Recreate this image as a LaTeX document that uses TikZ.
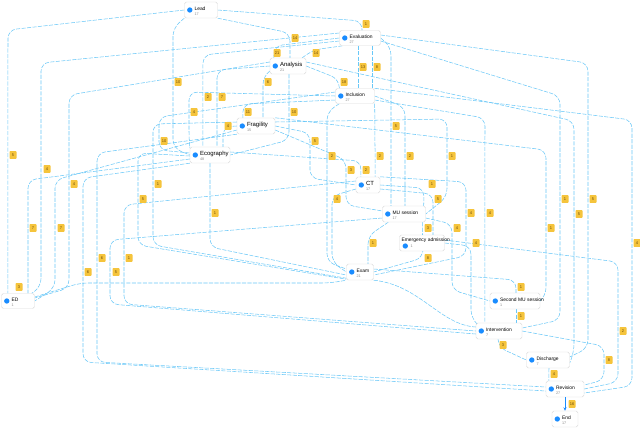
\documentclass[tikz,border=0pt]{standalone}
\usepackage{fontspec}
\setmainfont{Liberation Sans}
\usetikzlibrary{calc,arrows.meta}
\definecolor{edgec}{RGB}{105,200,248}
\definecolor{dotc}{RGB}{25,140,255}
\definecolor{labc}{RGB}{245,196,60}
\definecolor{labt}{RGB}{110,75,10}
\pgfdeclarelayer{bg}
\pgfsetlayers{bg,main}
\tikzset{
 box/.style={draw=black!14, fill=white, rounded corners=1.5pt, line width=0.35pt, inner sep=0},
 dotn/.style={circle, fill=dotc, inner sep=0, minimum size=1.6mm},
 ttl/.style={inner sep=0, font=\fontsize{4.2}{5}\selectfont},
 big/.style={font=\fontsize{5.1}{6}\selectfont},
 small/.style={},
 subt/.style={inner sep=0, text=black!45, font=\fontsize{3.2}{4}\selectfont},
 edge/.style={draw=edgec, line width=0.45pt, dash pattern=on 3.5pt off 1.2pt, rounded corners=7pt},
 lab/.style={fill=labc, rounded corners=0.6pt, inner sep=0, minimum width=2.1mm, minimum height=2.3mm, text=labt, font=\fontsize{3.4}{4}\selectfont}
}
\newcommand\pn[8]{%
 \node[box, minimum width=#4*0.3mm, minimum height=#5*0.3mm] (#1) at (#2,#3) {};
 \node[dotn] (#1d) at ($(#1.west)+(5.5,0)$) {};
 \node[ttl,#8,anchor=base west] (#1t) at ($(#1.west)+(10,0.8)$) {#6};
 \node[subt,anchor=base west] (#1s) at ($(#1.west)+(10,5.5)$) {#7};
}
\begin{document}
\begin{tikzpicture}[x=0.3mm,y=-0.3mm]
\useasboundingbox (0,0) rectangle (640,427);
% process nodes
\pn{start}{201}{10}{33}{16}{Lead}{17}{small}
\pn{eval}{360}{38}{41}{15}{Evaluation}{27}{small}
\pn{analysis}{288}{66}{36}{16}{Analysis}{21}{big}
\pn{inclusion}{355}{96}{39}{15}{Inclusion}{27}{small}
\pn{fragility}{256}{126}{38}{16}{Fragility}{15}{big}
\pn{ecography}{210}{155}{40}{16}{Ecography}{48}{big}
\pn{ct}{368}{185}{24}{16}{CT}{17}{big}
\pn{mu}{404}{214}{43}{16}{MU session}{17}{small}
\node[box, minimum width=45*0.3mm, minimum height=16*0.3mm] (emerg) at (422,243) {};
\node[dotn] (emergd) at ($(emerg.west)+(6,3)$) {};
\node[ttl,anchor=base west] (emergt) at ($(emerg.west)+(2,-1.5)$) {Emergency admission};
\node[subt,anchor=base west] (emergs) at ($(emerg.west)+(11,4.5)$) {1};
\pn{exam}{360}{272}{27}{16}{Exam}{21}{small}
\pn{ed}{18}{301}{33}{15}{ED}{1}{small}
\pn{second}{515}{301}{50}{16}{Second MU session}{1}{small}
\pn{interv}{499}{331}{46}{16}{Intervention}{7}{small}
\pn{disch}{548}{360}{43}{16}{Discharge}{7}{small}
\pn{revis}{565}{389}{38}{16}{Revision}{27}{small}
\pn{endn}{565}{419}{26}{16}{End}{17}{small}

\begin{pgfonlayer}{bg}
\fill[white] (0,0) rectangle (640,427);
\draw[edge] (start.east) -- (362,21) -- ($(eval.north)+(2,0)$);
\draw[edge] (start.south east) -- (290,33) -- ($(analysis.north)+(2,0)$);
\draw[edge] (start.west) -- (8,30) -- ($(ed.north west)+(6.5,0)$);
\draw[edge] (start.south west) -- (173,28) -- (173,148) -- (ecography.west);
\draw[edge] (eval.west) -- (274,46) -- ($(analysis.north west)+(4,0)$);
\draw[edge] ($(analysis.north east)+(-4,0)$) -- (313,50) -- ($(eval.south west)+(4,0)$);
\draw[edge] ($(eval.south)+(-2,0)$) -- ($(inclusion.north)+(3,0)$);
\draw[edge] ($(eval.south east)+(-8,0)$) -- ($(inclusion.north east)+(-2,0)$);
\draw[edge] (analysis.east) -- (339,79) -- ($(inclusion.north west)+(4,0)$);
\draw[edge] ($(eval.west)+(0,3)$) -- (203,55) -- ($(ecography.north west)+(13,0)$);
\draw[edge] (analysis.west) -- (217,70) -- ($(ecography.north)+(7,0)$);
\draw[edge] ($(analysis.west)+(0,5)$) -- (263,76) -- ($(fragility.north)+(7,0)$);
\draw[edge] ($(analysis.south)+(1,0)$) -- (289,140) -- (ecography.east);
\draw[edge] (inclusion.west) -- (189,92) -- (189,140) -- (ecography.north west);
\draw[edge] ($(inclusion.west)+(0,4)$) -- (243,104) -- ($(fragility.north west)+(6,0)$);
\draw[edge] (fragility.west) -- (223,127) -- ($(ecography.north)+(13,0)$);
\draw[edge] ($(inclusion.west)+(0,-4)$) -- (159,117) -- (159,150) -- ($(ecography.west)+(0,-2)$);
\draw[edge] (fragility.east) -- (310,133) -- (310,178) -- (ct.west);
\draw[edge] ($(inclusion.south west)+(4,0)$) -- (327,112) -- (327,262) -- ($(exam.west)+(0,-3)$);
\draw[edge] (inclusion.south east) -- ($(ct.north east)+(-5,0)$);
\draw[edge] (eval.east) -- (391,47) -- ($(mu.north)+(-13,0)$);
\draw[edge] (inclusion.east) -- (405,107) -- ($(mu.north)+(1,0)$);
\draw[edge] ($(fragility.east)+(0,-4)$) -- (447,119) -- (447,197) -- (mu.east);
\draw[edge] ($(ecography.east)+(0,-3)$) -- (361,161) -- ($(ct.north west)+(5,0)$);
\draw[edge] ($(fragility.east)+(0,4)$) -- (346,160) -- (346,205) -- ($(mu.west)+(0,-3)$);
\draw[edge] (ct.east) -- (424,188) -- ($(mu.north east)+(-2,0)$);
\draw[edge] ($(ct.east)+(0,4)$) -- (433,194) -- ($(emerg.north)+(11,0)$);
\draw[edge] ($(ct.west)+(0,4)$) -- (332,196) -- (332,262) -- (exam.west);
\draw[edge] (ecography.south) -- (210,247) -- ($(exam.west)+(0,3)$);
\draw[edge] ($(fragility.west)+(0,-4)$) -- (153,124) -- (153,245) -- ($(exam.south west)+(0,-2)$);
\draw[edge] ($(ecography.west)+(0,1)$) -- (138,153) -- (138,245) -- ($(exam.south west)+(0,-1)$);
\draw[edge] ($(eval.west)+(0,-5)$) -- (41,63) -- (41,287) -- ($(ed.north east)+(-3,0)$);
\draw[edge] ($(analysis.west)+(0,-4)$) -- (69,95) -- (69,288) -- ($(ed.east)+(0,-3)$);
\draw[edge] ($(ecography.west)+(0,4)$) -- (28,180) -- ($(ed.north)+(10,0)$);
\draw[edge] ($(fragility.west)+(0,4)$) -- (55,180) -- (55,288) -- (ed.east);
\draw[edge] (ecography.south west) -- (83,178) -- (83,362) -- ($(revis.west)+(0,2)$);
\draw[edge] (fragility.south west) -- (97,153) -- (97,362) -- ($(revis.west)+(0,-2)$);
\draw[edge] ($(mu.west)+(0,4)$) -- (110,240) -- (110,304) -- ($(interv.west)+(0,3)$);
\draw[edge] ($(ct.west)+(0,-4)$) -- (124,205) -- (124,304) -- (interv.west);
\draw[edge] ($(emerg.south)+(1,0)$) -- (423,258) -- (exam.east);
\draw[edge] ($(mu.south east)+(-3,0)$) -- ($(emerg.north)+(0.5,0)$);
\draw[edge] ($(mu.south west)+(6,0)$) -- (368,236) -- ($(exam.north)+(8,0)$);
\draw[edge] (ct.north east) -- (466,182) -- (466,256) -- ($(exam.east)+(0,3)$);
\draw[edge] ($(inclusion.east)+(0,4)$) -- (485,118) -- ($(interv.north west)+(9,0)$);
\draw[edge] (emerg.east) -- (471,246) -- (471,318) -- (interv.north west);
\draw[edge] ($(mu.east)+(0,4)$) -- (452,224) -- (452,290) -- (second.west);
\draw[edge] ($(exam.east)+(0,-3)$) -- (516,280) -- ($(second.north)+(1,0)$);
\draw[edge] ($(second.south)+(1,0)$) -- ($(interv.north)+(17,0)$);
\draw[edge] ($(interv.south)+(-1,0)$) -- (498,347) -- (disch.west);
\draw[edge] ($(disch.south)+(1,0)$) -- ($(revis.north west)+(3,0)$);
\draw[edge] (interv.east) -- (604,346) -- (604,380) -- ($(revis.east)+(0,-4)$);
\draw[edge] ($(emerg.east)+(0,-3)$) -- (618,262) -- (618,382) -- (revis.east);
\draw[edge] (inclusion.north east) -- (632,120) -- (632,386) -- ($(revis.east)+(0,4)$);
\draw[edge] ($(eval.east)+(0,-3)$) -- (588,63) -- (588,348) -- ($(disch.east)+(0,-3)$);
\draw[edge] ($(analysis.east)+(0,-4)$) -- (574,121) -- (574,352) -- ($(disch.east)+(0,3)$);
\draw[edge] ($(eval.east)+(0,3)$) -- (560,96) -- (560,320) -- ($(interv.east)+(0,-3)$);
\draw[edge] (fragility.north east) -- (546,150) -- (546,296) -- (second.east);
\draw[edge] (exam.south east) .. controls (420,285) and (440,325) .. ($(interv.west)+(0,-4)$);
\draw[edge] ($(ed.east)+(0,-4)$) -- (80,283) -- (330,283) -- (exam.south west);
\end{pgfonlayer}
\draw[-{Stealth[length=3pt,width=2.6pt]}, draw=dotc, fill=dotc, line width=0.7pt] (revis.south) -- (endn.north);

% edge labels
\node[lab] (l1) at (366,24) {1};
\node[lab] (l2) at (295,38) {14};
\node[lab] (l3) at (277,53) {21};
\node[lab] (l4) at (316,53) {14};
\node[lab] (l5) at (363,67) {13};
\node[lab] (l6) at (377,67) {8};
\node[lab] (l7) at (178,82) {10};
\node[lab] (l8) at (268,82) {6};
\node[lab] (l9) at (344,82) {18};
\node[lab] (l10) at (208,97) {2};
\node[lab] (l11) at (222,97) {7};
\node[lab] (l12) at (194,112) {4};
\node[lab] (l13) at (248,112) {11};
\node[lab] (l14) at (294,112) {10};
\node[lab] (l15) at (228,126) {4};
\node[lab] (l16) at (164,141) {10};
\node[lab] (l17) at (315,141) {5};
\node[lab] (l18) at (396,126) {5};
\node[lab] (l19) at (332,156) {2};
\node[lab] (l20) at (380,156) {2};
\node[lab] (l21) at (410,156) {2};
\node[lab] (l22) at (452,156) {1};
\node[lab] (l23) at (351,170) {3};
\node[lab] (l24) at (366,170) {2};
\node[lab] (l25) at (432,184) {1};
\node[lab] (l26) at (438,199) {5};
\node[lab] (l27) at (337,199) {4};
\node[lab] (l28) at (215,213) {1};
\node[lab] (l29) at (471,213) {4};
\node[lab] (l30) at (490,213) {4};
\node[lab] (l31) at (428,228) {3};
\node[lab] (l32) at (457,228) {4};
\node[lab] (l33) at (373,243) {1};
\node[lab] (l34) at (476,243) {4};
\node[lab] (l35) at (428,258) {8};
\node[lab] (l36) at (13,155) {5};
\node[lab] (l37) at (47,169) {4};
\node[lab] (l38) at (74,184) {4};
\node[lab] (l39) at (158,184) {1};
\node[lab] (l40) at (143,199) {5};
\node[lab] (l41) at (33,228) {7};
\node[lab] (l42) at (61,228) {7};
\node[lab] (l43) at (88,272) {6};
\node[lab] (l44) at (102,258) {6};
\node[lab] (l45) at (116,272) {5};
\node[lab] (l46) at (129,258) {1};
\node[lab] (l47) at (19,287) {3};
\node[lab] (l48) at (551,228) {1};
\node[lab] (l49) at (565,199) {1};
\node[lab] (l50) at (593,199) {5};
\node[lab] (l51) at (579,214) {5};
\node[lab] (l52) at (637,243) {4};
\node[lab] (l53) at (521,287) {1};
\node[lab] (l54) at (521,316) {1};
\node[lab] (l55) at (503,345) {3};
\node[lab] (l56) at (554,374) {4};
\node[lab] (l57) at (572,404) {16};
\node[lab] (l58) at (609,360) {8};
\node[lab] (l59) at (623,331) {2};
\end{tikzpicture}
\end{document}
